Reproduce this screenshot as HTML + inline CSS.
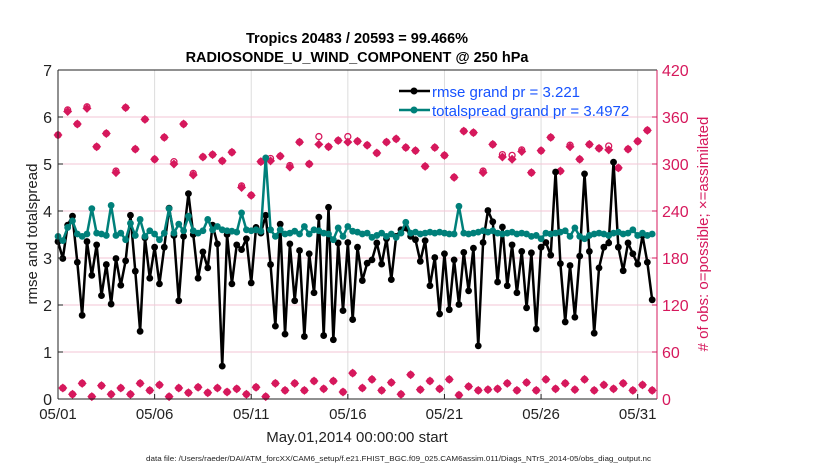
<!DOCTYPE html>
<html><head><meta charset="utf-8"><style>
body{margin:0;background:#fff;}
svg{display:block;font-family:"Liberation Sans",sans-serif;}
</style></head><body>
<svg id="chart" width="830" height="470" viewBox="0 0 830 470">
<text x="357" y="43" text-anchor="middle" font-size="14.5" font-weight="bold">Tropics 20483 / 20593 = 99.466%</text>
<text x="357" y="62" text-anchor="middle" font-size="14.5" font-weight="bold">RADIOSONDE_U_WIND_COMPONENT @ 250 hPa</text>
<g id="grid"></g><g id="marks"></g><g id="axes"></g>
<text transform="translate(37,234) rotate(-90)" text-anchor="middle" font-size="15" fill="#222">rmse and totalspread</text>
<text transform="translate(708,234) rotate(-90)" text-anchor="middle" font-size="15" fill="#d6185c"># of obs: o=possible; ×=assimilated</text>
<text x="357" y="442" text-anchor="middle" font-size="15" fill="#222">May.01,2014 00:00:00 start</text>
<text x="146" y="461" font-size="7.5" fill="#222" textLength="505" lengthAdjust="spacingAndGlyphs">data file: /Users/raeder/DAI/ATM_forcXX/CAM6_setup/f.e21.FHIST_BGC.f09_025.CAM6assim.011/Diags_NTrS_2014-05/obs_diag_output.nc</text>
<g>
<line x1="399" y1="91" x2="430" y2="91" stroke="#000" stroke-width="2.5"/><circle cx="414" cy="91" r="3.5" fill="#000"/>
<text x="432" y="97" font-size="15" fill="#1652ff">rmse grand pr = 3.221</text>
<line x1="399" y1="110" x2="430" y2="110" stroke="#00807a" stroke-width="2.5"/><circle cx="414" cy="110" r="3.5" fill="#00807a"/>
<text x="432" y="116" font-size="15" fill="#1652ff">totalspread grand pr = 3.4972</text>
</g>
</svg>
<script>
const rmse=[3.35,2.99,3.7,3.89,2.91,1.78,3.35,2.63,3.28,2.2,2.86,2.02,2.99,2.42,2.94,3.91,2.72,1.44,3.43,2.57,3.23,2.45,3.23,4.06,3.48,2.09,3.46,4.37,3.5,2.57,3.13,2.79,3.7,3.3,0.7,3.5,2.45,3.28,3.18,3.41,2.47,3.65,
3.53,3.91,2.86,1.55,3.72,1.38,3.3,2.09,3.16,1.33,3.09,2.26,3.87,1.35,4.08,1.26,3.32,1.88,3.33,1.69,3.23,2.52,2.89,2.96,3.32,2.87,3.41,2.54,3.46,3.6,3.64,3.46,3.39,2.93,3.37,2.41,3.01,1.81,3.09,1.9,2.96,2.01,
3.12,2.3,3.21,1.13,3.33,4.01,3.77,2.49,3.66,2.41,3.28,2.26,3.14,1.94,3.11,1.49,3.23,3.33,3.06,4.83,2.88,1.64,2.84,1.74,3.04,4.79,3.14,1.4,2.79,3.23,3.32,5.04,3.23,2.73,3.32,3.09,2.87,3.48,2.91,2.11];
const spread=[3.46,3.37,3.65,3.79,3.51,3.46,3.51,4.05,3.53,3.51,3.48,4.12,3.48,3.53,3.39,3.74,3.48,3.82,3.46,3.58,3.51,3.39,3.53,4.05,3.53,3.72,3.58,3.89,3.58,3.53,3.58,3.82,3.6,3.67,3.6,3.58,3.57,3.55,3.96,3.6,3.58,3.6,
3.57,5.13,3.6,3.46,3.6,3.51,3.53,3.57,3.51,3.67,3.51,3.6,3.58,3.53,3.51,3.39,3.64,3.46,3.67,3.57,3.55,3.51,3.53,3.44,3.48,3.53,3.46,3.51,3.44,3.53,3.76,3.53,3.55,3.51,3.53,3.55,3.53,3.55,3.53,3.51,3.51,4.1,
3.53,3.51,3.53,3.55,3.58,3.55,3.58,3.53,3.51,3.53,3.55,3.51,3.53,3.51,3.46,3.48,3.41,3.53,3.51,3.53,3.55,3.58,3.46,3.64,3.46,3.41,3.48,3.51,3.53,3.51,3.48,3.53,3.55,3.51,3.53,3.6,3.48,3.53,3.48,3.51];
const obsUpper=[337,367,351,371,322,339,289,372,319,357,306,334,300,351,286,309,312,304,315,270,260,
303,304,310,296,328,300,325,322,330,328,329,324,314,328,332,321,317,297,321,311,283,
342,340,289,325,309,306,316,289,317,334,291,322,306,325,320,318,295,319,329,343];
const possUpper=[337,369,351,373,322,339,291,372,319,357,306,334,303,351,288,309,312,304,315,272,260,
303,307,310,298,328,300,335,322,330,335,329,324,314,328,332,321,317,297,321,311,283,
342,340,291,325,312,311,318,289,317,334,291,324,306,325,320,323,295,319,329,343];
const obsLower=[14,6,20,3,17,6,14,6,20,11,18,3,14,8,15,8,14,9,13,6,15,
3,20,11,20,11,23,13,23,9,33,14,25,11,21,6,31,12,23,13,25,5,
16,11,12,13,20,11,21,11,25,13,20,12,25,11,18,13,20,11,18,11];
const possLower=obsLower.slice();
const dayTicks=['05/01','05/06','05/11','05/16','05/21','05/26','05/31'];
const dayTickVals=[0,5,10,15,20,25,30];
const leftTicks=[0,1,2,3,4,5,6,7];
const rightTicks=[0,60,120,180,240,300,360,420];

const X0=58,X1=657,Y0=399,Y1=70,DAYS=31;
const xs=d=>X0+d/DAYS*(X1-X0);
const xi=i=>xs(i*0.25);
const yl=v=>Y0-v/7*(Y0-Y1);
const yr=v=>Y0-v/420*(Y0-Y1);
const NS='http://www.w3.org/2000/svg';
function mk(tag,attrs,parent){const e=document.createElementNS(NS,tag);for(const k in attrs)e.setAttribute(k,attrs[k]);parent.appendChild(e);return e;}
const grid=document.getElementById('grid'),marks=document.getElementById('marks'),axes=document.getElementById('axes');
mk('rect',{x:X0,y:Y1,width:X1-X0,height:Y0-Y1,fill:'#fff'},grid);
dayTickVals.forEach((d,k)=>{
 const l=mk('line',{x1:xs(d),x2:xs(d),y1:Y1,y2:Y0,stroke:'#dcdcdc','stroke-width':1},grid);
 
 
 mk('line',{x1:xs(d),x2:xs(d),y1:Y0,y2:Y0-5,stroke:'#222'},axes);
 const t=mk('text',{x:xs(d),y:Y0+20,'text-anchor':'middle','font-size':15,fill:'#222'},axes);
 t.textContent=dayTicks[k];
 
 
});
leftTicks.forEach(v=>{
 if(v>0&&v<7){const l=mk('line',{x1:X0,x2:X1,y1:yl(v),y2:yl(v),stroke:'#f3c6d6','stroke-width':1},grid);
 
 }
 mk('line',{x1:X0,x2:X0+5,y1:yl(v),y2:yl(v),stroke:'#222'},axes);
 const t=mk('text',{x:X0-6,y:yl(v)+6,'text-anchor':'end','font-size':16,fill:'#222'},axes);
 t.textContent=v;
 
 
});
rightTicks.forEach(v=>{
 mk('line',{x1:X1,x2:X1-5,y1:yr(v),y2:yr(v),stroke:'#d6185c'},axes);
 const t=mk('text',{x:X1+5,y:yr(v)+6,'font-size':16,fill:'#d6185c'},axes);
 t.textContent=v;
 
 
});
mk('line',{x1:X0,x2:X1,y1:Y1,y2:Y1,stroke:'#222'},axes);
mk('line',{x1:X0,x2:X1,y1:Y0,y2:Y0,stroke:'#222'},axes);
mk('line',{x1:X0,x2:X0,y1:Y1,y2:Y0,stroke:'#222'},axes);
mk('line',{x1:X1,x2:X1,y1:Y1,y2:Y0,stroke:'#d6185c'},axes);

function obsMarker(x,y,name){
 const g=mk('g',{},marks);
 
 
 mk('path',{d:`M${x},${y-4.5}L${x+4.5},${y}L${x},${y+4.5}L${x-4.5},${y}Z`,fill:'#d6185c'},g);
}
function possMarker(x,y){
 const c=mk('circle',{cx:x,cy:y,r:3,fill:'none',stroke:'#d6185c','stroke-width':1.3},marks);
 
 
}
obsUpper.forEach((v,k)=>{possMarker(xi(2*k),yr(possUpper[k]));obsMarker(xi(2*k),yr(v),'assimilated-obs-marker');});
obsLower.forEach((v,k)=>{possMarker(xi(2*k+1),yr(possLower[k]));obsMarker(xi(2*k+1),yr(v),'assimilated-obs-marker');});

function series(arr,color,name){
 const p=mk('polyline',{points:arr.map((v,i)=>xi(i)+','+yl(v)).join(' '),fill:'none',stroke:color,'stroke-width':2.5,'stroke-linejoin':'round'},marks);
 
 
 arr.forEach((v,i)=>{
  const c=mk('circle',{cx:xi(i),cy:yl(v),r:3.4,fill:color},marks);
  
  
 });
}
series(rmse,'#000','rmse');
series(spread,'#00807a','totalspread');
</script>
</body></html>
